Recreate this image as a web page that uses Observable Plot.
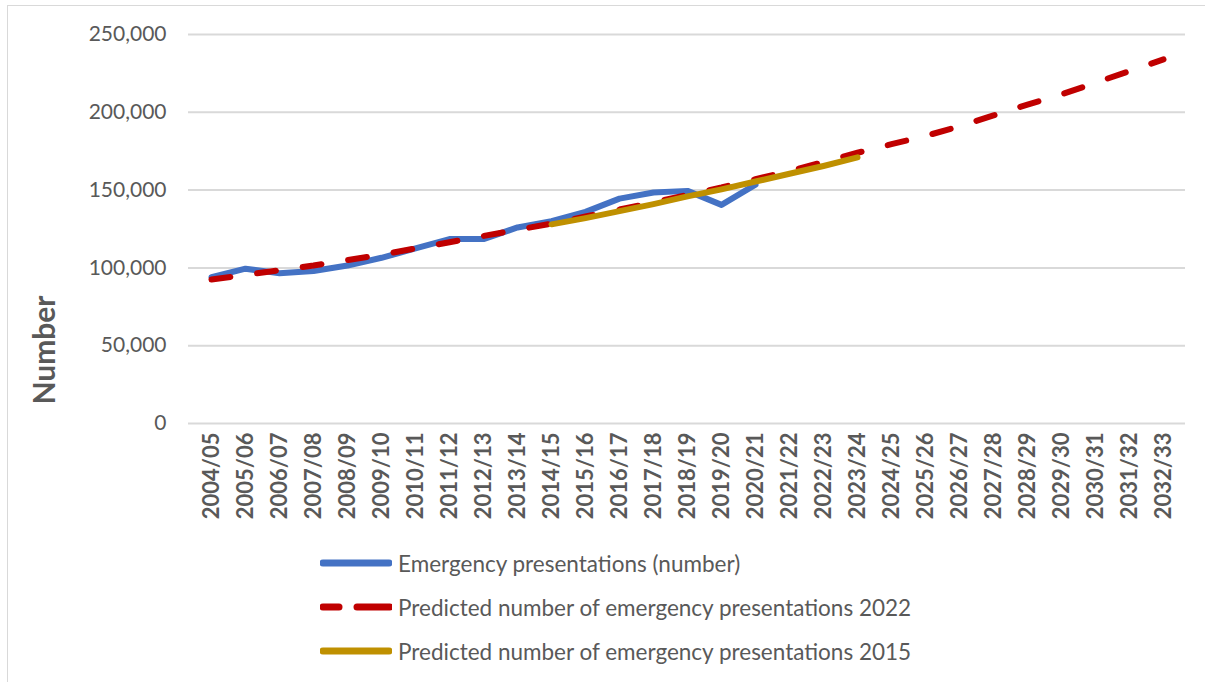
<!DOCTYPE html>
<html><head><meta charset="utf-8">
<script src="https://cdn.jsdelivr.net/npm/d3@7"></script>
<script src="https://cdn.jsdelivr.net/npm/@observablehq/plot@0.6"></script>
<style>
body{margin:0;background:#fff;font-family:Lato,sans-serif;}
#frame{position:absolute;left:7px;top:5px;width:1205px;height:690px;border-left:1.5px solid #d9d9d9;border-top:1.5px solid #d9d9d9;}
#chart{position:absolute;left:0;top:0;}
#legend{position:absolute;left:320px;top:541px;color:#595959;font-size:22.5px;}
.row{display:flex;align-items:center;height:44px;white-space:nowrap}
.row svg{margin-right:6px}
</style></head>
<body>
<div id="frame"></div>
<div id="chart"></div>
<div id="legend"></div>
<script>
const years = ["2004/05","2005/06","2006/07","2007/08","2008/09","2009/10","2010/11","2011/12","2012/13","2013/14","2014/15","2015/16","2016/17","2017/18","2018/19","2019/20","2020/21","2021/22","2022/23","2023/24","2024/25","2025/26","2026/27","2027/28","2028/29","2029/30","2030/31","2031/32","2032/33"];
const yTicks = [0, 50000, 100000, 150000, 200000, 250000];
// Emergency presentations (number), 2004/05 – 2020/21
const actual = [94000, 99500, 96500, 98000, 101500, 106500, 112500, 118500, 118500, 126000, 130000, 136000, 144500, 148500, 149500, 140500, 153500];
// Predicted 2022, 2004/05 – 2032/33
const pred2022 = [92500, 95500, 98500, 101500, 105000, 108500, 112500, 116500, 120500, 124500, 128500, 133000, 137500, 142000, 147000, 151700, 157000, 162300, 168000, 174000, 179500, 184800, 191000, 198000, 205000, 211500, 219000, 226500, 234000];
// Predicted 2015, 2014/15 – 2023/24
const pred2015 = [128000, 132000, 136500, 141000, 146000, 150500, 155500, 160500, 165500, 171000];
const seriesNames = ["Emergency presentations (number)", "Predicted number of emergency presentations 2022", "Predicted number of emergency presentations 2015"];
const colors = ["#4472C4", "#C00000", "#BF9000"];

const actualData = actual.map((v, i) => ({year: years[i], value: v}));
const p22Data = pred2022.map((v, i) => ({year: years[i], value: v}));
const p15Start = years.indexOf("2014/15");
const p15Data = pred2015.map((v, i) => ({year: years[p15Start + i], value: v}));

const chart = Plot.plot({
  width: 1205, height: 535,
  marginLeft: 188, marginRight: 20, marginTop: 34, marginBottom: 112,
  style: {fontFamily: "Lato, sans-serif", color: "#595959", background: "transparent"},
  x: {type: "point", domain: years, padding: 0.5},
  y: {domain: [0, 250000]},
  marks: [
    Plot.ruleY(yTicks, {stroke: "#d9d9d9", strokeWidth: 2}),
    Plot.axisY(yTicks, {tickSize: 0, tickPadding: 22, fontSize: 21, tickFormat: d3.format(","), label: null, fill: "#595959"}),
    Plot.axisX(years, {tickSize: 0, tickRotate: -90, tickPadding: 9, fontSize: 22, fontWeight: "bold", label: null, fill: "#595959"}),
    Plot.text(["Number"], {frameAnchor: "left", textAnchor: "middle", lineAnchor: "middle", dx: -143, dy: 121, rotate: -90, fontSize: 30, fontWeight: "bold", fill: "#595959"}),
    Plot.line(actualData, {x: "year", y: "value", stroke: colors[0], strokeWidth: 6, strokeLinejoin: "round", strokeLinecap: "round"}),
    Plot.line(p22Data, {x: "year", y: "value", stroke: colors[1], strokeWidth: 6, strokeLinejoin: "round", strokeLinecap: "round", strokeDasharray: "19,27"}),
    Plot.line(p15Data, {x: "year", y: "value", stroke: colors[2], strokeWidth: 6, strokeLinejoin: "round", strokeLinecap: "round"})
  ]
});
document.getElementById("chart").appendChild(chart);

const legend = document.getElementById("legend");
seriesNames.forEach((name, i) => {
  const row = document.createElement("div");
  row.className = "row";
  const sw = i === 1
    ? `<svg width="72" height="10"><line x1="3" y1="5" x2="19" y2="5" stroke="${colors[i]}" stroke-width="7" stroke-linecap="round"/><line x1="37" y1="5" x2="70" y2="5" stroke="${colors[i]}" stroke-width="7" stroke-linecap="round"/></svg>`
    : `<svg width="72" height="10"><line x1="3" y1="5" x2="69" y2="5" stroke="${colors[i]}" stroke-width="7" stroke-linecap="round"/></svg>`;
  row.innerHTML = sw + `<span>${name}</span>`;
  legend.appendChild(row);
});
</script>
</body></html>
